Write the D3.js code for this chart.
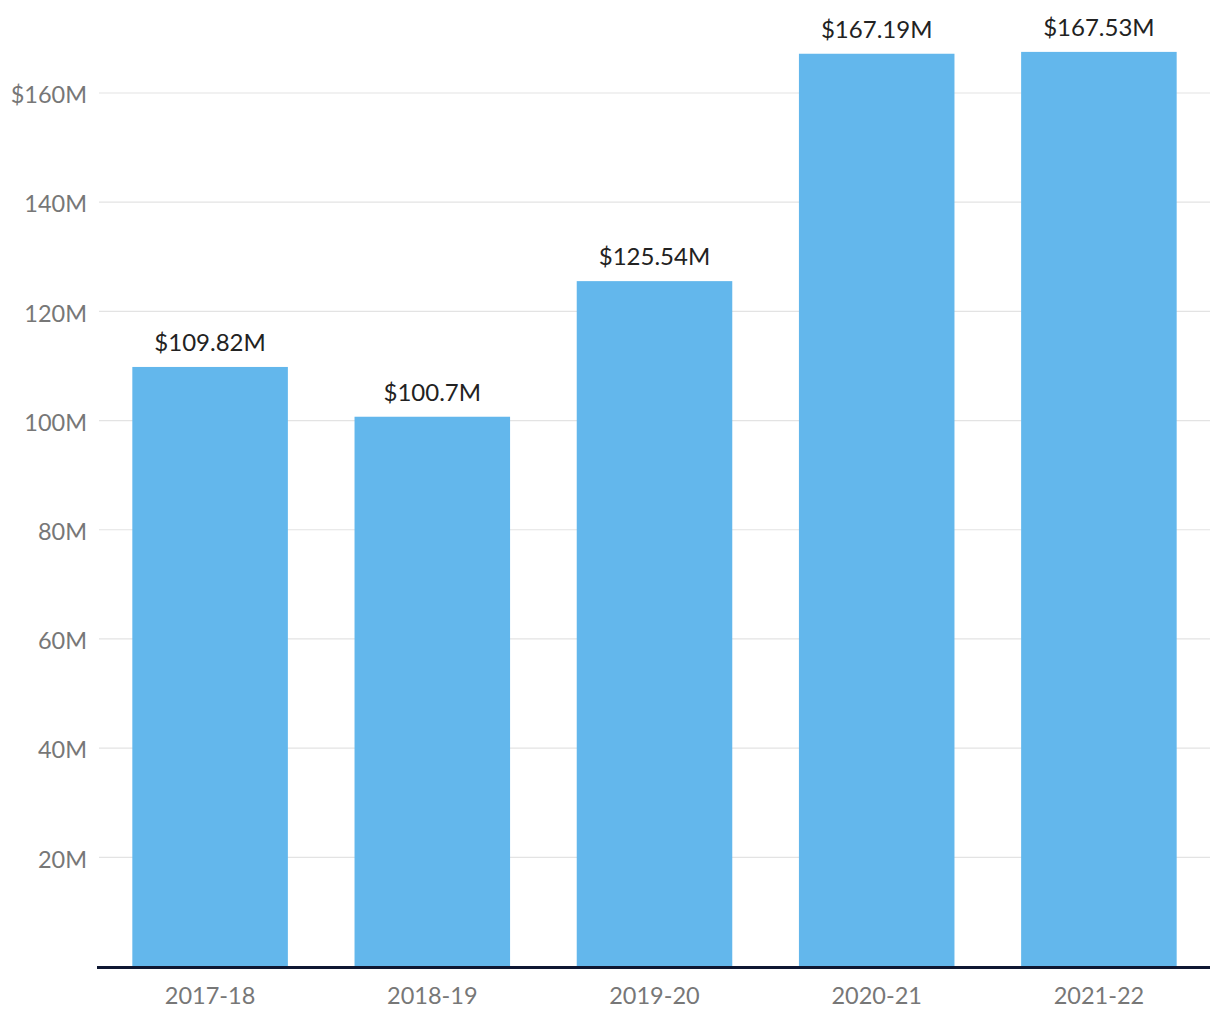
<!DOCTYPE html>
<html><head><meta charset="utf-8">
<script src="https://cdn.jsdelivr.net/npm/d3@7"></script>
<style>body{margin:0;background:#fff;} svg{display:block;}</style>
</head><body>
<svg id="c" width="1220" height="1020"></svg>
<script>
const categories = ["2017-18","2018-19","2019-20","2020-21","2021-22"];
const values = [109.82, 100.7, 125.54, 167.19, 167.53];
const valueLabels = ["$109.82M","$100.7M","$125.54M","$167.19M","$167.53M"];
const yTicks = [20,40,60,80,100,120,140,160];
const yTickLabels = ["20M","40M","60M","80M","100M","120M","140M","$160M"];

(function(){
const svg = d3.select("#c");
const mLeft = 99, mRight = 1210, mBottom = 966.5, mTop = 93;
const x = d3.scaleBand().domain(categories).range([mLeft, mRight]).paddingInner(0.3).paddingOuter(0.15);
const y = d3.scaleLinear().domain([0,160]).range([mBottom, mTop]);

svg.append("g").selectAll("line").data(yTicks).join("line")
  .attr("x1", mLeft).attr("x2", mRight)
  .attr("y1", d=>y(d)).attr("y2", d=>y(d))
  .attr("stroke","#e3e3e3").attr("stroke-width",1.2);

svg.append("g").selectAll("text").data(yTicks).join("text")
  .attr("x", 87).attr("y", d=>y(d)+2).attr("dy","0.35em")
  .attr("text-anchor","end")
  .attr("font-family","Lato, sans-serif").attr("font-size",23.5)
  .attr("fill","#777")
  .text((d,i)=>yTickLabels[i]);

svg.append("g").selectAll("rect").data(values).join("rect")
  .attr("x",(d,i)=>x(categories[i])).attr("width",x.bandwidth())
  .attr("y",d=>y(d)).attr("height",d=>mBottom - y(d))
  .attr("fill","#63b7ec");

svg.append("g").selectAll("text").data(values).join("text")
  .attr("x",(d,i)=>x(categories[i])+x.bandwidth()/2)
  .attr("y",d=>y(d)-16)
  .attr("text-anchor","middle")
  .attr("font-family","Lato, sans-serif").attr("font-size",24)
  .attr("fill","#222")
  .text((d,i)=>valueLabels[i]);

svg.append("line").attr("x1",97).attr("x2",1210).attr("y1",mBottom+1).attr("y2",mBottom+1)
  .attr("stroke","#0e1732").attr("stroke-width",3);

svg.append("g").selectAll("text").data(categories).join("text")
  .attr("x",d=>x(d)+x.bandwidth()/2).attr("y",1004)
  .attr("text-anchor","middle")
  .attr("font-family","Lato, sans-serif").attr("font-size",23.5)
  .attr("fill","#777")
  .text(d=>d);
})();
</script>
</body></html>
